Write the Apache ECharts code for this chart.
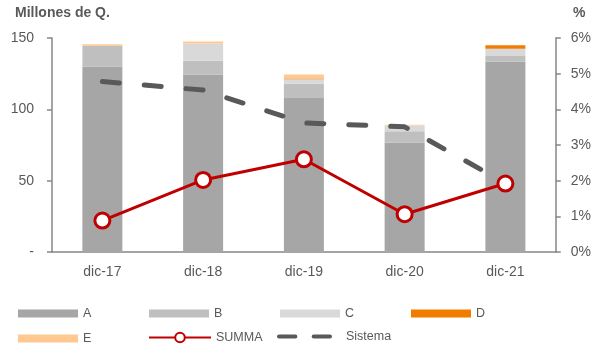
<!DOCTYPE html>
<head>
    <meta charset="utf-8">
    <title>ECharts</title>
    <script src="https://cdn.jsdelivr.net/npm/echarts@6/dist/echarts.min.js"></script>
    <style>body{margin:0;} #main{width:594px;height:349px;}</style>
</head>
<body>
    <div id="main"></div>
    <script type="text/javascript">
        // data
        var categories = ['dic-17', 'dic-18', 'dic-19', 'dic-20', 'dic-21'];
        var serieA = [130, 124.5, 108, 76.5, 133.4];
        var serieB = [14.6, 9.6, 10, 8.2, 4];
        var serieC = [0, 12, 3, 4, 5];
        var serieD = [0, 0, 0.6, 0, 2.6];
        var serieE = [1, 1.5, 2.8, 0.5, 0];
        var summa = [0.88, 2.02, 2.6, 1.06, 1.92];     // %
        var sistema = [4.78, 4.54, 3.62, 3.51, 1.93];  // %
        var leftTicks = [0, 50, 100, 150];
        var rightTicks = [0, 1, 2, 3, 4, 5, 6];

        var font = 'Liberation Sans';
        var grey = '#595959';
        var axisGrey = '#868686';

        // two rounded dashes for the Sistema legend
        var dashIcon = 'path://M2,0 L18,0 A2,2 0 0 1 18,4 L2,4 A2,2 0 0 1 2,0 Z M36,0 L52,0 A2,2 0 0 1 52,4 L36,4 A2,2 0 0 1 36,0 Z';

        var myChart = echarts.init(document.getElementById('main'));

        function bar(name, data, color) {
            return {
                name: name,
                type: 'bar',
                stack: 'total',
                yAxisIndex: 0,
                barWidth: 40,
                itemStyle: {color: color},
                data: data
            };
        }

        function legendAt(name, left, top, h, icon) {
            return {
                data: [{name: name, icon: icon || 'rect'}],
                left: left,
                top: top,
                itemWidth: 60,
                itemHeight: h || 8,
                itemGap: 0,
                padding: 0,
                textStyle: {fontFamily: font, fontSize: 12.5, color: grey}
            };
        }

        var sisLegend = legendAt('Sistema', 277, 330, 5, dashIcon);
        sisLegend.itemWidth = 55;
        sisLegend.textStyle.padding = [0, 0, 0, 9];

        var sumLegend = legendAt('SUMMA', 148, 331, 12);
        sumLegend.data = ['SUMMA'];
        sumLegend.itemWidth = 62;

        var option = {
            animation: false,
            title: [
                {text: 'Millones de Q.', left: 10, top: 1, textStyle: {fontFamily: font, fontSize: 14, fontWeight: 'bold', color: grey}},
                {text: '%', left: 568, top: 1, textStyle: {fontFamily: font, fontSize: 14, fontWeight: 'bold', color: grey}}
            ],
            grid: {left: 52, right: 35, top: 38, bottom: 97},
            legend: [
                legendAt('A', 18, 307),
                legendAt('B', 149, 307),
                legendAt('C', 280, 307),
                legendAt('D', 411, 307),
                legendAt('E', 18, 332),
                sumLegend,
                sisLegend
            ],
            xAxis: {
                type: 'category',
                data: categories,
                axisLine: {lineStyle: {color: axisGrey, width: 1.5}},
                axisTick: {alignWithLabel: true, length: 4, lineStyle: {color: axisGrey, width: 1.5}},
                axisLabel: {fontFamily: font, fontSize: 14, color: grey, margin: 13}
            },
            yAxis: [
                {
                    type: 'value',
                    min: leftTicks[0],
                    max: leftTicks[leftTicks.length - 1],
                    interval: 50,
                    splitLine: {show: false},
                    axisLine: {show: true, lineStyle: {color: axisGrey, width: 1.5}},
                    axisTick: {show: true, length: 5, lineStyle: {color: axisGrey, width: 1.5}},
                    axisLabel: {
                        fontFamily: font, fontSize: 14, color: grey, margin: 18,
                        formatter: function (v) { return v === 0 ? '-' : v; }
                    }
                },
                {
                    type: 'value',
                    min: rightTicks[0],
                    max: rightTicks[rightTicks.length - 1],
                    interval: 1,
                    splitLine: {show: false},
                    axisLine: {show: true, lineStyle: {color: axisGrey, width: 1.5}},
                    axisTick: {show: true, length: 5, lineStyle: {color: axisGrey, width: 1.5}},
                    axisLabel: {fontFamily: font, fontSize: 14, color: grey, margin: 15, formatter: '{value}%'}
                }
            ],
            series: [
                bar('A', serieA, '#A6A6A6'),
                bar('B', serieB, '#BFBFBF'),
                bar('C', serieC, '#D9D9D9'),
                bar('D', serieD, '#F07C00'),
                bar('E', serieE, '#FFC991'),
                {
                    name: 'SUMMA',
                    type: 'line',
                    yAxisIndex: 1,
                    data: summa,
                    symbol: 'circle',
                    symbolSize: 15,
                    z: 5,
                    lineStyle: {color: '#C00000', width: 3},
                    itemStyle: {color: '#ffffff', borderColor: '#C00000', borderWidth: 3}
                },
                {
                    name: 'Sistema',
                    type: 'line',
                    yAxisIndex: 1,
                    data: sistema,
                    symbol: 'none',
                    z: 4,
                    lineStyle: {color: '#595959', width: 5, type: [17, 25], cap: 'round'},
                    itemStyle: {color: '#595959'}
                }
            ]
        };

        myChart.setOption(option);
    </script>
</body>
